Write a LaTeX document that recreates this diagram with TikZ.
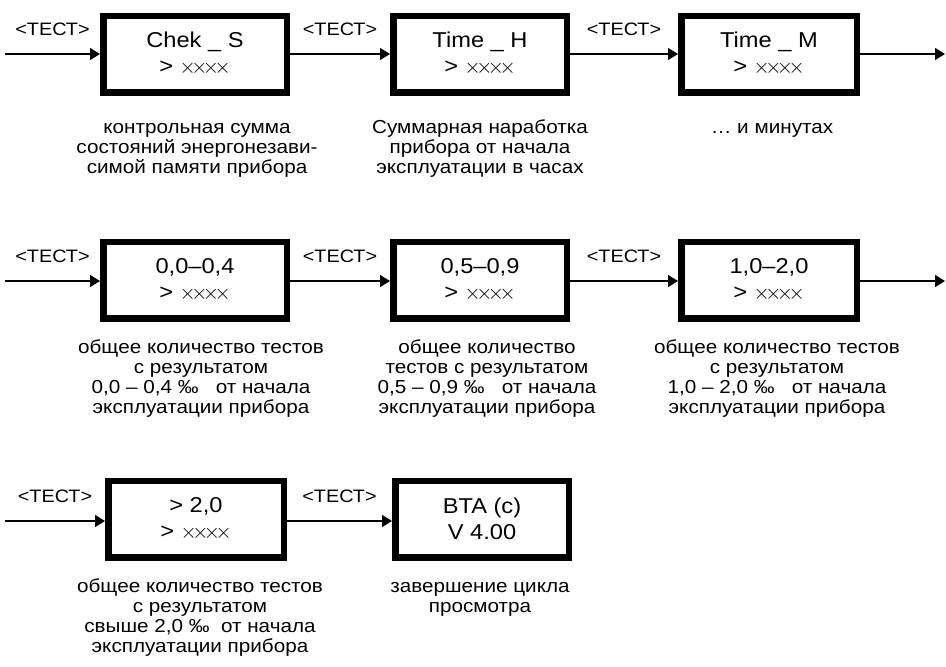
\documentclass[tikz,border=0pt]{standalone}
\usepackage{fontspec}
\setmainfont{Liberation Sans}[FakeStretch=1.1]
\newcommand{\xxxx}{{\fontsize{22}{26}\selectfont$\mathord{\times}\mkern-3.9mu\mathord{\times}\mkern-3.9mu\mathord{\times}\mkern-3.9mu\mathord{\times}$}}
\usetikzlibrary{arrows.meta}
\begin{document}
\begin{tikzpicture}[x=1pt,y=-1pt,
 box/.style={draw, line width=6.5pt, minimum height=76.5pt, inner sep=0pt, align=center, font=\fontsize{21.5}{26}\selectfont},
 arr/.style={line width=1.5pt, -{Triangle[length=10pt,width=12pt]}},
 lab/.style={midway, anchor=base, yshift=19pt, inner sep=0pt, font=\fontsize{18}{20}\selectfont},
 desc/.style={anchor=north, inner sep=0pt, align=center, font=\fontsize{18.8}{20}\selectfont}]
\useasboundingbox (0,0) rectangle (946,667);
% row 1
\node[box, minimum width=183.5pt] (b11) at (195,54) {Chek \_ S\\> \xxxx};
\node[box, minimum width=173.5pt] (b12) at (480,54) {Time \_ H\\> \xxxx};
\node[box, minimum width=175.5pt] (b13) at (769,54) {Time \_ M\\> \xxxx};
\coordinate (i1) at (5,54);
\coordinate (o1) at (945,54);
\draw[arr] (i1) -- node[lab]{<ТЕСТ>} (b11);
\draw[arr] (b11) -- node[lab]{<ТЕСТ>} (b12);
\draw[arr] (b12) -- node[lab]{<ТЕСТ>} (b13);
\draw[arr] (b13) -- (o1);
\node[desc] (d11) at (197,119) {\strut контрольная сумма\\состояний энергонезави-\\симой памяти прибора};
\node[desc] (d12) at (480,119) {\strut Суммарная наработка\\прибора от начала\\эксплуатации в часах};
\node[desc] (d13) at (772,119) {\strut … и минутах};
% row 2
\node[box, minimum width=183.5pt] (b21) at (195,280) {0,0–0,4\\> \xxxx};
\node[box, minimum width=173.5pt] (b22) at (480,280) {0,5–0,9\\> \xxxx};
\node[box, minimum width=175.5pt] (b23) at (769,280) {1,0–2,0\\> \xxxx};
\coordinate (i2) at (5,281);
\coordinate (o2) at (945,281);
\draw[arr] (i2) -- node[lab]{<ТЕСТ>} (i2 -| b21.west);
\draw[arr] (b21.east |- i2) -- node[lab]{<ТЕСТ>} (i2 -| b22.west);
\draw[arr] (b22.east |- i2) -- node[lab]{<ТЕСТ>} (i2 -| b23.west);
\draw[arr] (b23.east |- i2) -- (o2);
\node[desc] (d21) at (201,339) {\strut общее количество тестов\\с результатом\\0,0 – 0,4 ‰\ \ \ от начала\\эксплуатации прибора};
\node[desc] (d22) at (487,339) {\strut общее количество\\тестов с результатом\\0,5 – 0,9 ‰\ \ \ от начала\\эксплуатации прибора};
\node[desc] (d23) at (777,339) {\strut общее количество тестов\\с результатом\\1,0 – 2,0 ‰\ \ \ от начала\\эксплуатации прибора};
% row 3
\node[box, minimum width=175.5pt] (b31) at (196,519) {> 2,0\\> \xxxx};
\node[box, minimum width=173.5pt] (b32) at (482,519) {BTA (c)\\V 4.00};
\coordinate (i3) at (5,521);
\draw[arr] (i3) -- node[lab]{<ТЕСТ>} (i3 -| b31.west);
\draw[arr] (b31.east |- i3) -- node[lab]{<ТЕСТ>} (i3 -| b32.west);
\node[desc] (d31) at (200,578) {\strut общее количество тестов\\с результатом\\свыше 2,0 ‰\ \ от начала\\эксплуатации прибора};
\node[desc] (d32) at (480,578) {\strut завершение цикла\\просмотра};
\end{tikzpicture}
\end{document}
